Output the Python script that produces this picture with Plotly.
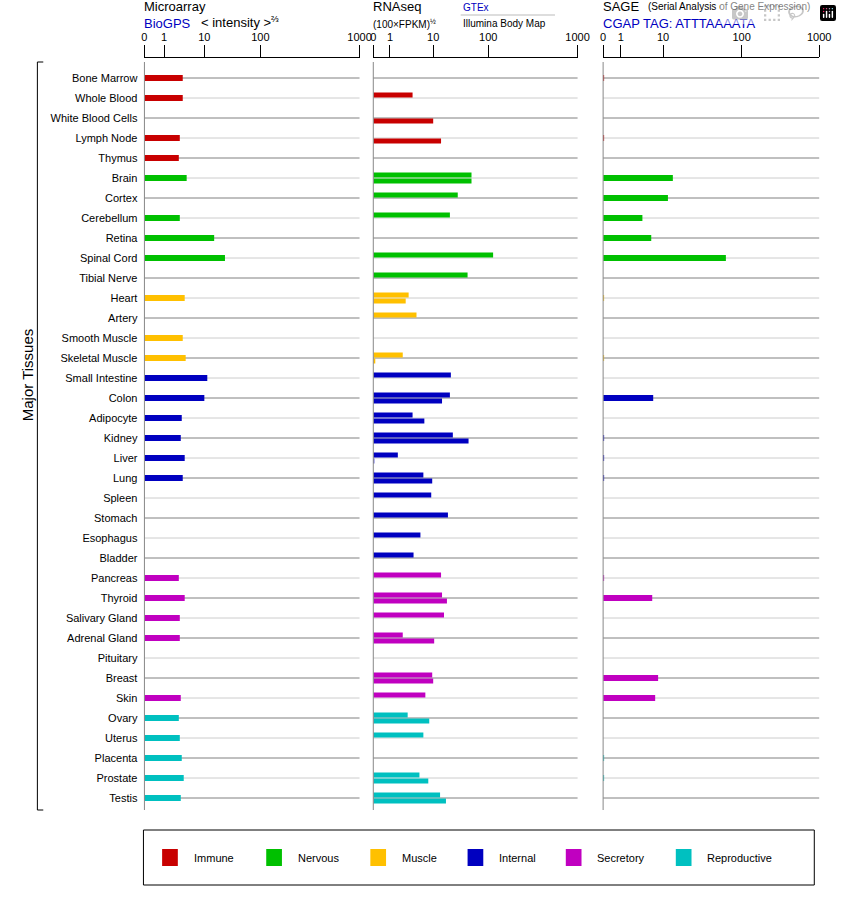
import plotly.graph_objects as go

W, H = 842, 900

tissues = ['Bone Marrow', 'Whole Blood', 'White Blood Cells', 'Lymph Node', 'Thymus',
           'Brain', 'Cortex', 'Cerebellum', 'Retina', 'Spinal Cord', 'Tibial Nerve',
           'Heart', 'Artery', 'Smooth Muscle', 'Skeletal Muscle',
           'Small Intestine', 'Colon', 'Adipocyte', 'Kidney', 'Liver', 'Lung', 'Spleen',
           'Stomach', 'Esophagus', 'Bladder',
           'Pancreas', 'Thyroid', 'Salivary Gland', 'Adrenal Gland', 'Pituitary', 'Breast', 'Skin',
           'Ovary', 'Uterus', 'Placenta', 'Prostate', 'Testis']
groups = ['Immune'] * 5 + ['Nervous'] * 6 + ['Muscle'] * 4 + ['Internal'] * 10 + \
         ['Secretory'] * 7 + ['Reproductive'] * 5
group_names = ['Immune', 'Nervous', 'Muscle', 'Internal', 'Secretory', 'Reproductive']
group_colors = ['#c80000', '#00c000', '#ffc000', '#0000c0', '#c000c0', '#00c0c0']

# bar lengths on each panel's display scale (scale units: see tick positions below)
microarray = [39, 39, None, 36, 35, 43, None, 36, 71, 82, None, 41, None, 39, 42,
              64, 61, 38, 37, 41, 39, None, None, None, None,
              35, 41, 36, 36, None, None, 37, 35, 36, 38, 40, 37]
rna_gtex = [None, 40, None, None, None, 100, 86, 78, None, 122, 96, 36, 44, None, 30,
            79, 78, 40, 81, 25, 51, 59, 76, 48, 41,
            69, 70, 72, 30, None, 60, 53, 35, 51, None, 47, 68]
rna_illumina = [None, None, 61, 69, None, 100, None, None, None, None, None, 33, None, None, 2,
                None, 70, 52, 97, 1, 60, None, None, None, None,
                None, 75, None, 62, None, 61, None, 57, None, None, 56, 74]
sage = [1, None, None, 1, None, 71, 66, 40, 49, 125, None, 1, None, None, 1,
        None, 51, None, 1, 1, 1, None, None, None, None,
        1, 50, None, None, None, 56, 53, None, None, 1, 1, None]

tick_labels = ['0', '1', '10', '100', '1000']
micro_ticks = [0, 20, 61, 118, 219]
rna_ticks = [0, 17, 61, 117, 208]
sage_ticks = [0, 18, 61, 141, 220]

panels = [(144, 363, micro_ticks), (377, 585, rna_ticks), (611, 831, sage_ticks)]
colors = [group_colors[group_names.index(g)] for g in groups]
n = len(tissues)
rows = list(range(n))

fig = go.Figure()

# Microarray
fig.add_trace(go.Bar(x=microarray, y=rows, orientation='h', width=0.3,
                     marker=dict(color=colors, line_width=0), xaxis='x', yaxis='y'))
# RNAseq: GTEx above the row line, Illumina below
fig.add_trace(go.Bar(x=rna_gtex, y=[r - 0.15 for r in rows], orientation='h', width=0.24,
                     marker=dict(color=colors, line_width=0), xaxis='x2', yaxis='y2'))
fig.add_trace(go.Bar(x=rna_illumina, y=[r + 0.15 for r in rows], orientation='h', width=0.24,
                     marker=dict(color=colors, line_width=0), xaxis='x2', yaxis='y2'))
# SAGE
fig.add_trace(go.Bar(x=sage, y=rows, orientation='h', width=0.3,
                     marker=dict(color=colors, line_width=0), xaxis='x3', yaxis='y3'))

ydom = [1 - 810 / H, 1 - 58 / H]
yr = [n - 0.4, -1]
font = dict(family='Liberation Sans, Arial', size=11, color='black')
layout = dict(width=W, height=H, margin=dict(l=0, r=0, t=0, b=0),
              plot_bgcolor='white', paper_bgcolor='white', showlegend=False,
              barmode='overlay', font=font)
for k, (x0, x1, tv) in enumerate(panels):
    s = '' if k == 0 else str(k + 1)
    layout['xaxis' + s] = dict(domain=[x0 / W, x1 / W], range=[0, x1 - x0], side='top',
                               anchor='y' + s, tickvals=tv, ticktext=tick_labels,
                               ticks='outside', ticklen=12, tickcolor='black',
                               showline=True, linecolor='black', linewidth=1,
                               showgrid=False, zeroline=False, fixedrange=True,
                               tickfont=dict(size=11))
    layout['yaxis' + s] = dict(domain=ydom, range=yr, anchor='x' + s, showgrid=False,
                               zeroline=False, showline=False, fixedrange=True,
                               tickvals=rows if k == 0 else [],
                               ticktext=tissues if k == 0 else [],
                               ticks='', ticklabelstandoff=6)
fig.update_layout(**layout)

shapes = []
for k, (x0, x1, tv) in enumerate(panels):
    s = '' if k == 0 else str(k + 1)
    for i in rows:
        shapes.append(dict(type='line', xref='x' + s + ' domain', yref='y' + s, x0=0, x1=1,
                           y0=i, y1=i, layer='below',
                           line=dict(color='#808080' if i % 2 == 0 else '#cccccc', width=1)))
    shapes.append(dict(type='line', xref='x' + s + ' domain', yref='paper', x0=0, x1=0,
                       y0=1 - 810 / H, y1=1 - 62 / H, line=dict(color='#888888', width=1)))
# bracket for major tissues
shapes += [dict(type='line', xref='paper', yref='paper', x0=35 / W, x1=35 / W,
                y0=1 - 810 / H, y1=1 - 62 / H, line=dict(color='black', width=1)),
           dict(type='line', xref='paper', yref='paper', x0=35 / W, x1=41 / W,
                y0=1 - 62 / H, y1=1 - 62 / H, line=dict(color='black', width=1)),
           dict(type='line', xref='paper', yref='paper', x0=35 / W, x1=41 / W,
                y0=1 - 810 / H, y1=1 - 810 / H, line=dict(color='black', width=1))]
# legend box
shapes.append(dict(type='rect', xref='paper', yref='paper', x0=143 / W, x1=826 / W,
                   y0=1 - 885 / H, y1=1 - 830 / H, line=dict(color='black', width=1)))
legend_x = [162, 268, 374, 473, 573, 685]
annotations = []
for gx, gname, gc in zip(legend_x, group_names, group_colors):
    shapes.append(dict(type='rect', xref='paper', yref='paper', x0=gx / W, x1=(gx + 16) / W,
                       y0=1 - 866 / H, y1=1 - 849 / H, fillcolor=gc, line_width=0))
    annotations.append(dict(text=gname, x=(gx + 30) / W, y=1 - 858 / H, xref='paper',
                            yref='paper', showarrow=False, xanchor='left', yanchor='middle',
                            font=dict(size=11)))

def note(text, x, y, size=13, color='black'):
    annotations.append(dict(text=text, x=x / W, y=1 - y / H, xref='paper', yref='paper',
                            showarrow=False, xanchor='left', yanchor='middle',
                            font=dict(size=size, color=color)))

blue = '#0000c0'
note('Microarray', 142, 7)
note('BioGPS', 142, 24, color=blue)
note('&lt; intensity &gt;<sup>⅔</sup>', 200, 22)
note('RNAseq', 375, 7)
note('(100×FPKM)<sup>½</sup>', 375, 24, size=10)
note('GTEx', 466, 8, size=10, color=blue)
note('Illumina Body Map', 466, 24, size=10)
shapes.append(dict(type='line', xref='paper', yref='paper', x0=466 / W, x1=562 / W,
                   y0=1 - 15 / H, y1=1 - 15 / H, line=dict(color='#bbbbbb', width=1)))
note('SAGE', 609, 7)
note('(Serial Analysis of Gene Expression)', 655, 7, size=10)
note('CGAP TAG: ATTTAAAATA', 609, 24, color=blue)
annotations.append(dict(text='Major Tissues', x=14 / W, y=1 - 375 / H, xref='paper',
                        yref='paper', showarrow=False, textangle=-90,
                        font=dict(size=15)))

fig.update_layout(shapes=shapes, annotations=annotations)
fig.write_html("out.html")

# drop the default page margin so the figure sits at the window's top-left corner
with open("out.html", encoding="utf-8") as f:
    page = f.read()
page = page.replace("<head>", "<head><style>body{margin:0}</style>", 1)
with open("out.html", "w", encoding="utf-8") as f:
    f.write(page)
